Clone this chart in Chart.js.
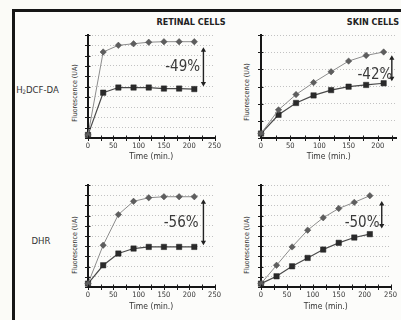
<!DOCTYPE html>
<html>
<head>
<meta charset="utf-8">
<script src="https://cdn.jsdelivr.net/npm/chart.js@4.4.1/dist/chart.umd.min.js"></script>
<style>
    html, body { margin: 0; padding: 0; width: 401px; height: 320px; overflow: hidden; background: #fbfbf7; }
    body { position: relative; font-family: "Liberation Sans Narrow", "DejaVu Sans Condensed", sans-serif; color: #333; }
    .frame { position: absolute; left: 12px; top: 9px; width: 420px; height: 340px; border-left: 3px solid #161616; border-top: 3px solid #161616; background: #fcfcfa; }
    .panel { position: absolute; }
    .txt { position: absolute; transform: translate(-50%, -50%); white-space: nowrap; }
    .head { font-weight: bold; font-size: 9px; color: #222; }
    .row { font-size: 9.5px; color: #333; }
    .row sub { font-size: 6px; vertical-align: -1px; }
    .ytitle { font-size: 7px; color: #333; transform: translate(-50%, -50%) rotate(-90deg); }
</style>
</head>
<body>
<div class="frame"></div>
<div class="txt head" style="left:191px; top:21.5px;">RETINAL CELLS</div>
<div class="txt head" style="left:373px; top:21.5px;">SKIN CELLS</div>
<div class="txt row" style="left:37.5px; top:89px;">H<sub>2</sub>DCF-DA</div>
<div class="txt row" style="left:41px; top:240px;">DHR</div>
<div class="txt ytitle" style="left:75px; top:93px;">Fluorescence (UA)</div>
<div class="txt ytitle" style="left:247px; top:92px;">Fluorescence (UA)</div>
<div class="txt ytitle" style="left:75px; top:245px;">Fluorescence (UA)</div>
<div class="txt ytitle" style="left:247px; top:245px;">Fluorescence (UA)</div>

<canvas id="retinal-dcf" class="panel"></canvas>
<canvas id="skin-dcf" class="panel"></canvas>
<canvas id="retinal-dhr" class="panel"></canvas>
<canvas id="skin-dhr" class="panel"></canvas>

<script>
// Sampling times (min.)
const times = [0, 30, 60, 90, 120, 150, 180, 210];
const xTickLabels = [0, 50, 100, 150, 200, 250];

// H2DCF-DA
const retinalDcfControl = [0.3, 8.35, 9.0, 9.15, 9.3, 9.35, 9.35, 9.35];
const retinalDcfTreated = [0.3, 4.4, 4.9, 4.9, 4.9, 4.8, 4.8, 4.75];
const skinDcfControl = [0.26, 1.64, 2.53, 3.23, 3.86, 4.48, 4.81, 5.01];
const skinDcfTreated = [0.26, 1.35, 2.04, 2.48, 2.79, 2.99, 3.09, 3.19];

// DHR
const retinalDhrControl = [0.33, 4.1, 7.1, 8.4, 8.75, 8.85, 8.85, 8.85];
const retinalDhrTreated = [0.33, 2.13, 3.28, 3.77, 3.93, 3.93, 3.93, 3.93];
const skinDhrControl = [0.33, 2.13, 3.93, 5.57, 6.79, 7.7, 8.3, 8.95];
const skinDhrTreated = [0.33, 1.05, 2.03, 2.85, 3.67, 4.33, 4.85, 5.18];

// Reduction arrows: label, x position, top / bottom of arrow, label position (data units)
const gapLabels = ['-49%', '-42%', '-56%', '-50%'];
const gapArrowX = [228, 224, 228, 233];
const gapArrowTop = [8.8, 4.82, 8.6, 8.43];
const gapArrowBottom = [5.0, 3.3, 4.1, 5.74];
const gapLabelX = [187, 195, 184, 195];
const gapLabelY = [6.9, 3.67, 6.26, 6.23];

// Axis ranges
const xMax = [250, 232, 250, 250];
const yMax = [10, 6, 10, 10];

const FONT = '"Liberation Sans Narrow", "DejaVu Sans Condensed", sans-serif';
Chart.defaults.font.family = FONT;
Chart.defaults.color = '#444';

// Small tick marks crossing both axes
const crossTicks = {
    id: 'crossTicks',
    afterDraw(chart) {
        const { ctx, scales: { x, y }, chartArea } = chart;
        ctx.save();
        ctx.strokeStyle = '#1a1a1a';
        ctx.lineWidth = 1;
        ctx.beginPath();
        x.ticks.forEach(t => {
            const px = Math.round(x.getPixelForValue(t.value)) + 0.5;
            ctx.moveTo(px, chartArea.bottom - 2.5);
            ctx.lineTo(px, chartArea.bottom + 3);
        });
        y.ticks.forEach(t => {
            const py = Math.round(y.getPixelForValue(t.value)) + 0.5;
            ctx.moveTo(chartArea.left - 3, py);
            ctx.lineTo(chartArea.left + 2.5, py);
        });
        ctx.stroke();
        ctx.restore();
    }
};

// Double arrow with percentage
const gapPlugin = {
    id: 'gap',
    afterDatasetsDraw(chart, args, opts) {
        const { ctx, scales: { x, y } } = chart;
        const ax = x.getPixelForValue(opts.x);
        const y1 = y.getPixelForValue(opts.top);
        const y2 = y.getPixelForValue(opts.bottom);
        ctx.save();
        ctx.strokeStyle = '#222';
        ctx.fillStyle = '#222';
        ctx.lineWidth = 1.4;
        ctx.beginPath();
        ctx.moveTo(ax, y1 + 3);
        ctx.lineTo(ax, y2 - 3);
        ctx.stroke();
        ctx.beginPath();
        ctx.moveTo(ax, y1);
        ctx.lineTo(ax - 2.6, y1 + 4.5);
        ctx.lineTo(ax + 2.6, y1 + 4.5);
        ctx.closePath();
        ctx.moveTo(ax, y2);
        ctx.lineTo(ax - 2.6, y2 - 4.5);
        ctx.lineTo(ax + 2.6, y2 - 4.5);
        ctx.closePath();
        ctx.fill();
        ctx.font = '15px ' + FONT;
        ctx.fillStyle = '#3a3a3a';
        ctx.textAlign = 'center';
        ctx.textBaseline = 'middle';
        ctx.fillText(opts.label, x.getPixelForValue(opts.labelX), y.getPixelForValue(opts.labelY));
        ctx.restore();
    }
};

function makePanel(id, geo, control, treated, i) {
    const canvas = document.getElementById(id);
    canvas.width = geo.width;
    canvas.height = geo.height;
    canvas.style.left = geo.left + 'px';
    canvas.style.top = geo.top + 'px';

    return new Chart(canvas.getContext('2d'), {
        type: 'line',
        data: {
            labels: times,
            datasets: [{
                data: times.map((t, k) => ({ x: t, y: control[k] })),
                borderColor: '#8c8c8c',
                borderWidth: 1,
                pointStyle: 'rectRot',
                pointRadius: 3.2,
                pointBackgroundColor: '#5e5e5e',
                pointBorderColor: '#4a4a4a',
                pointBorderWidth: 0.5,
                tension: 0,
                clip: false
            }, {
                data: times.map((t, k) => ({ x: t, y: treated[k] })),
                borderColor: '#4a4a4a',
                borderWidth: 1.2,
                pointStyle: 'rect',
                pointRadius: 3.8,
                pointBackgroundColor: '#2a2a2a',
                pointBorderColor: '#222',
                pointBorderWidth: 0.5,
                tension: 0,
                clip: false
            }]
        },
        options: {
            responsive: false,
            animation: false,
            devicePixelRatio: 1,
            layout: { padding: { left: 0, top: geo.padTop, right: geo.padRight, bottom: 0 } },
            plugins: {
                legend: { display: false },
                tooltip: { enabled: false },
                gap: {
                    label: gapLabels[i],
                    x: gapArrowX[i],
                    top: gapArrowTop[i],
                    bottom: gapArrowBottom[i],
                    labelX: gapLabelX[i],
                    labelY: gapLabelY[i]
                }
            },
            scales: {
                x: {
                    type: 'linear',
                    min: 0,
                    max: xMax[i],
                    afterFit: s => { s.height = geo.xh; },
                    ticks: {
                        stepSize: 25,
                        includeBounds: false,
                        autoSkip: false,
                        maxRotation: 0,
                        padding: 4,
                        font: { size: 7.5 },
                        color: '#333',
                        callback: v => xTickLabels.includes(v) ? String(v) : ''
                    },
                    grid: { drawOnChartArea: false, drawTicks: false },
                    border: { display: true, color: '#161616', width: 2 },
                    title: {
                        display: true,
                        text: 'Time (min.)',
                        font: { size: 8.5 },
                        color: '#333',
                        padding: { top: 0, bottom: 0 }
                    }
                },
                y: {
                    min: 0,
                    max: yMax[i],
                    afterFit: s => { s.width = geo.yw; },
                    ticks: { stepSize: 1, display: false },
                    grid: { color: '#c2c2c2', lineWidth: 1, drawTicks: false },
                    border: { display: true, color: '#161616', width: 2, dash: [1, 2] }
                }
            }
        },
        plugins: [crossTicks, gapPlugin]
    });
}

makePanel('retinal-dcf', { left: 60, top: 28, width: 165, height: 134, yw: 28, xh: 24, padTop: 7, padRight: 10 },
    retinalDcfControl, retinalDcfTreated, 0);
makePanel('skin-dcf', { left: 233, top: 28, width: 168, height: 134, yw: 28, xh: 24, padTop: 7, padRight: 4 },
    skinDcfControl, skinDcfTreated, 1);
makePanel('retinal-dhr', { left: 60, top: 178, width: 165, height: 134, yw: 28, xh: 25, padTop: 7, padRight: 10 },
    retinalDhrControl, retinalDhrTreated, 2);
makePanel('skin-dhr', { left: 233, top: 178, width: 168, height: 134, yw: 28, xh: 25, padTop: 7, padRight: 9 },
    skinDhrControl, skinDhrTreated, 3);
</script>
</body>
</html>
